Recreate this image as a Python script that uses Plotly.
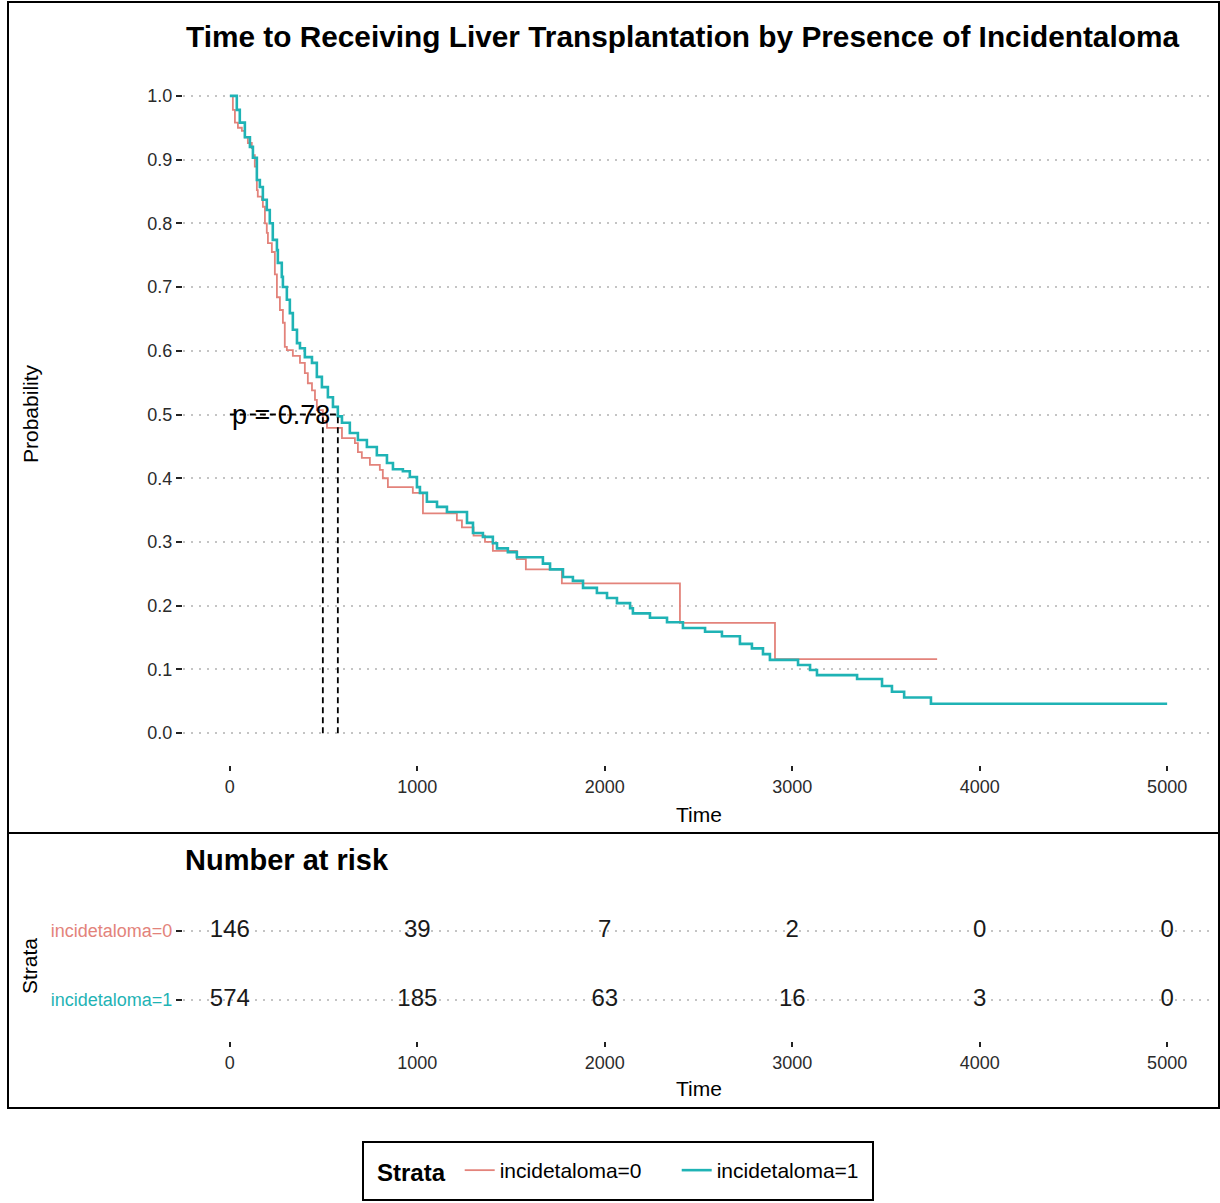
import plotly.graph_objects as go

W, H = 1220, 1203

# ---------------- data ----------------
strata_labels = ["incidetaloma=0", "incidetaloma=1"]
strata_colors = ["#e3837b", "#1fb3b5"]

# Kaplan-Meier curve, incidetaloma=0 (time in days, survival probability after step)
time_inc0 = [0, 16, 27, 43, 64, 80, 96, 117, 123, 133, 144, 149, 171, 176, 187, 197, 203, 224, 240, 251,
             267, 283, 293, 304, 336, 374, 400, 416, 438, 454, 464, 496, 518, 598, 667, 683, 704, 747, 800, 816,
             843, 976, 1030, 1211, 1238, 1300, 1361, 1403, 1531, 1579, 1771, 2401, 2908, 3773]
surv_inc0 = [1.0, 0.978, 0.958, 0.95, 0.945, 0.935, 0.926, 0.918, 0.907, 0.889, 0.852, 0.842, 0.837, 0.826, 0.80,
             0.785, 0.769, 0.755, 0.72, 0.684, 0.664, 0.644, 0.606, 0.601, 0.592, 0.581, 0.565, 0.549, 0.538, 0.523,
             0.507, 0.49, 0.479, 0.463, 0.455, 0.441, 0.432, 0.421, 0.413, 0.40, 0.386, 0.377, 0.345, 0.334, 0.323,
             0.31, 0.30, 0.286, 0.273, 0.257, 0.235, 0.173, 0.116, 0.116]

# Kaplan-Meier curve, incidetaloma=1
time_inc1 = [0, 37, 53, 80, 107, 123, 144, 160, 176, 197, 213, 229, 251, 256, 277, 283, 304, 320, 336, 358,
             374, 400, 438, 464, 491, 523, 550, 576, 598, 640, 683, 731, 784, 838, 870, 923, 960, 998, 1014, 1051,
             1105, 1158, 1265, 1297, 1350, 1403, 1425, 1483, 1531, 1670, 1708, 1777, 1830, 1884, 1958, 2012, 2065,
             2135, 2150, 2241, 2332, 2417, 2535, 2625, 2721, 2785, 2844, 2881, 3031, 3095, 3132, 3346, 3479, 3532,
             3597, 3740, 5000]
surv_inc1 = [1.0, 0.978, 0.958, 0.935, 0.92, 0.903, 0.868, 0.857, 0.837, 0.821, 0.80, 0.774, 0.758, 0.738, 0.716,
             0.70, 0.68, 0.659, 0.633, 0.612, 0.604, 0.59, 0.581, 0.559, 0.543, 0.527, 0.512, 0.497, 0.487, 0.471,
             0.46, 0.449, 0.436, 0.424, 0.414, 0.411, 0.402, 0.386, 0.377, 0.363, 0.355, 0.347, 0.33, 0.314, 0.308,
             0.298, 0.29, 0.284, 0.276, 0.266, 0.257, 0.245, 0.239, 0.228, 0.22, 0.212, 0.204, 0.196, 0.188, 0.181,
             0.174, 0.165, 0.159, 0.152, 0.14, 0.133, 0.124, 0.115, 0.107, 0.099, 0.091, 0.085, 0.074, 0.065, 0.056,
             0.046, 0.046]

median_times = [496, 576]
median_level = 0.5
p_value_text = "p = 0.78"

risk_times = [0, 1000, 2000, 3000, 4000, 5000]
risk_inc0 = [146, 39, 7, 2, 0, 0]
risk_inc1 = [574, 185, 63, 16, 3, 0]

x_ticks = [0, 1000, 2000, 3000, 4000, 5000]
y_ticks = [0.0, 0.1, 0.2, 0.3, 0.4, 0.5, 0.6, 0.7, 0.8, 0.9, 1.0]

title_text = "Time to Receiving Liver Transplantation by Presence of Incidentaloma"

# ---------------- helpers for layout placement ----------------
def fx(px):
    return px / W

def fy(py):
    return 1 - py / H

FONT = "Liberation Sans, Arial, sans-serif"
TICK_COLOR = "#2b2b2b"
GRID = "#c4c4c4"

fig = go.Figure()

# KM curves
for t, s, lab, col, w in [(time_inc0, surv_inc0, strata_labels[0], strata_colors[0], 1.8),
                          (time_inc1, surv_inc1, strata_labels[1], strata_colors[1], 2.6)]:
    fig.add_trace(go.Scatter(x=t, y=s, mode="lines", line=dict(color=col, width=w, shape="hv"),
                             name=lab, xaxis="x", yaxis="y", showlegend=True))

# median lines
mx, my = [], []
for m in median_times:
    mx += [m, m, None]
    my += [0, median_level, None]
mx += [0, max(median_times)]
my += [median_level, median_level]
fig.add_trace(go.Scatter(x=mx, y=my, mode="lines", line=dict(color="black", width=1.8, dash="6px,4px"),
                         showlegend=False, hoverinfo="skip", xaxis="x", yaxis="y"))

# p value
fig.add_annotation(x=0, y=median_level, xref="x", yref="y", text=p_value_text, showarrow=False,
                   xanchor="left", yanchor="middle", font=dict(family=FONT, size=27, color="black"))

# risk table
for vals, lab in [(risk_inc0, strata_labels[0]), (risk_inc1, strata_labels[1])]:
    fig.add_trace(go.Scatter(x=risk_times, y=[lab] * len(risk_times), mode="text",
                             text=[str(v) for v in vals],
                             textfont=dict(family=FONT, size=24, color="#1a1a1a"),
                             showlegend=False, hoverinfo="skip", xaxis="x2", yaxis="y2"))

xdom = [fx(183), fx(1214)]
xrange = [-250, 5250]

common_x = dict(domain=xdom, range=xrange, tickvals=x_ticks, ticks="outside", ticklen=5, tickwidth=1.5,
                tickcolor="#222", showgrid=False, zeroline=False, showline=False,
                tickfont=dict(family=FONT, size=18, color=TICK_COLOR), fixedrange=True)

fig.update_layout(
    width=W, height=H, autosize=False,
    margin=dict(l=0, r=0, t=0, b=0),
    paper_bgcolor="white", plot_bgcolor="white",
    font=dict(family=FONT, color="black"),
    xaxis=dict(anchor="y", **common_x),
    yaxis=dict(domain=[fy(765), fy(64)], range=[-0.05, 1.05], tickvals=y_ticks, tickformat=".1f",
               ticks="outside", ticklen=6, tickwidth=1.5, tickcolor="#222",
               showgrid=True, gridcolor=GRID, gridwidth=1.5, griddash="2px,6px",
               zeroline=False, showline=False,
               tickfont=dict(family=FONT, size=18, color=TICK_COLOR), anchor="x"),
    xaxis2=dict(anchor="y2", **common_x),
    yaxis2=dict(domain=[fy(1041), fy(890)], type="category",
                categoryorder="array", categoryarray=[strata_labels[1], strata_labels[0]],
                range=[-0.6, 1.6],
                tickvals=strata_labels,
                ticktext=[f'<span style="color:{c}">{l}</span>' for l, c in zip(strata_labels, strata_colors)],
                ticks="outside", ticklen=6, tickwidth=1.5, tickcolor="#222",
                showgrid=True, gridcolor=GRID, gridwidth=1.5, griddash="2px,6px",
                zeroline=False, showline=False,
                tickfont=dict(family=FONT, size=18), anchor="x2"),
    legend=dict(orientation="h", x=fx(375), xanchor="left", y=fy(1171), yanchor="middle",
                font=dict(family=FONT, size=21, color="black"),
                title=dict(text="<b>Strata</b>&nbsp;", font=dict(family=FONT, size=24), side="left"),
                bgcolor="rgba(0,0,0,0)", borderwidth=0, itemwidth=30,
                entrywidth=172, entrywidthmode="pixels"),
    showlegend=True,
)

# titles and axis titles
fig.add_annotation(x=fx(184), y=fy(36), xref="paper", yref="paper", text=f"<b>{title_text}</b>",
                   showarrow=False, xanchor="left", yanchor="middle",
                   font=dict(family=FONT, size=29.8, color="black"))
fig.add_annotation(x=fx(183), y=fy(860), xref="paper", yref="paper", text="<b>Number at risk</b>",
                   showarrow=False, xanchor="left", yanchor="middle",
                   font=dict(family=FONT, size=29, color="black"))
for yy in (814, 1088):
    fig.add_annotation(x=fx(699), y=fy(yy), xref="paper", yref="paper", text="Time", showarrow=False,
                       xanchor="center", yanchor="middle", font=dict(family=FONT, size=21, color="black"))
fig.add_annotation(x=fx(30), y=fy(414), xref="paper", yref="paper", text="Probability", showarrow=False,
                   textangle=-90, xanchor="center", yanchor="middle", font=dict(family=FONT, size=21, color="black"))
fig.add_annotation(x=fx(30), y=fy(966), xref="paper", yref="paper", text="Strata", showarrow=False,
                   textangle=-90, xanchor="center", yanchor="middle", font=dict(family=FONT, size=21, color="black"))

# panel borders and legend frame
fig.add_shape(type="rect", xref="paper", yref="paper", x0=fx(8), x1=fx(1219), y0=fy(833), y1=fy(2),
              line=dict(color="black", width=2))
fig.add_shape(type="rect", xref="paper", yref="paper", x0=fx(8), x1=fx(1219), y0=fy(1108), y1=fy(833),
              line=dict(color="black", width=2))
fig.add_shape(type="rect", xref="paper", yref="paper", x0=fx(363), x1=fx(873), y0=fy(1200), y1=fy(1142),
              line=dict(color="black", width=2))

fig.write_html("out.html", config={"displayModeBar": False},
               post_script="document.body.style.margin='0';document.body.style.overflow='hidden';")
